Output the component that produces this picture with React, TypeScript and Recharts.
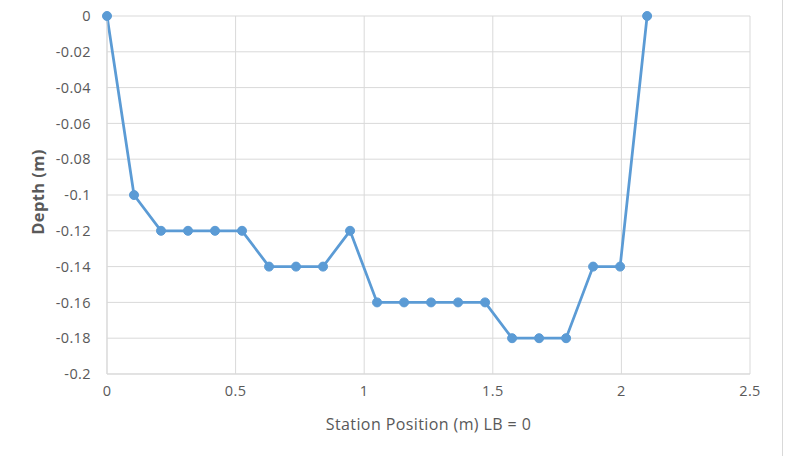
import { LineChart, Line, XAxis, YAxis, CartesianGrid } from 'recharts';

// station positions (m) and depths (m)
const stations = [
  0, 0.105, 0.21, 0.315, 0.42, 0.525, 0.63, 0.735, 0.84, 0.945, 1.05,
  1.155, 1.26, 1.365, 1.47, 1.575, 1.68, 1.785, 1.89, 1.995, 2.1,
];
const depths = [
  0, -0.1, -0.12, -0.12, -0.12, -0.12, -0.14, -0.14, -0.14, -0.12, -0.16,
  -0.16, -0.16, -0.16, -0.16, -0.18, -0.18, -0.18, -0.14, -0.14, 0,
];
const xTicks = [0, 0.5, 1, 1.5, 2, 2.5];
const yTicks = [0, -0.02, -0.04, -0.06, -0.08, -0.1, -0.12, -0.14, -0.16, -0.18, -0.2];

const data = stations.map((s, i) => ({ x: s, depth: depths[i] }));

const FONT = '"Open Sans", "Liberation Sans", sans-serif';
const TICK = { fill: '#595959', fontSize: 14.5, fontFamily: FONT, letterSpacing: 0.4 };
const BLUE = '#5b9bd5';

export default function App() {
  return (
    <div style={{ position: 'absolute', left: 0, top: 0, width: 801, height: 456, background: '#fff' }}>
      <div style={{ position: 'absolute', left: 782, top: 0, width: 1, height: 456, background: '#d9d9d9' }} />
      <LineChart width={801} height={456} data={data} margin={{ top: 16, right: 51, left: 0, bottom: 0 }}>
        <CartesianGrid stroke="#d9d9d9" strokeWidth={1} />
        <XAxis
          dataKey="x"
          type="number"
          domain={[0, 2.5]}
          ticks={xTicks}
          tick={TICK}
          tickLine={false}
          axisLine={{ stroke: '#d9d9d9' }}
          tickSize={0}
          tickMargin={12}
          height={82}
          label={{
            content: ({ viewBox }: any) => (
              <text x={viewBox.x + viewBox.width / 2} y={430} textAnchor="middle"
                fill="#595959" fontSize={16} letterSpacing={0.4} fontFamily={FONT}>
                Station Position (m) LB = 0
              </text>
            ),
          }}
        />
        <YAxis
          type="number"
          domain={[-0.2, 0]}
          ticks={yTicks}
          tick={TICK}
          tickLine={false}
          axisLine={{ stroke: '#d9d9d9' }}
          tickSize={0}
          tickMargin={16}
          width={107}
          label={{
            content: ({ viewBox }: any) => {
              const cy = viewBox.y + viewBox.height / 2 - 3;
              return (
                <text x={44} y={cy} transform={`rotate(-90, 44, ${cy})`} textAnchor="middle"
                  fill="#595959" fontSize={16.5} letterSpacing={0.4} fontWeight="bold" fontFamily={FONT}>
                  Depth (m)
                </text>
              );
            },
          }}
        />
        <Line
          type="linear"
          dataKey="depth"
          stroke={BLUE}
          strokeWidth={2.75}
          dot={{ r: 4.5, fill: BLUE, stroke: BLUE, strokeWidth: 1 }}
          isAnimationActive={false}
        />
      </LineChart>
    </div>
  );
}
